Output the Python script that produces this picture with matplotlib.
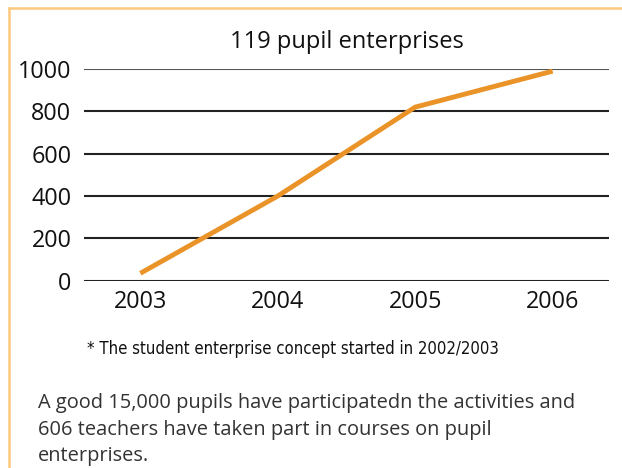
import matplotlib.pyplot as plt
from matplotlib.lines import Line2D

# data
years = ["2003", "2004", "2005", "2006"]
enterprises = [35, 400, 820, 990]
y_ticks = [0, 200, 400, 600, 800, 1000]

title = "119 pupil enterprises"
footnote = "* The student enterprise concept started in 2002/2003"
body_lines = ["A good 15,000 pupils have participatedn the activities and",
              "606 teachers have taken part in courses on pupil",
              "enterprises."]

plt.rcParams['font.family'] = ['Open Sans', 'DejaVu Sans']

W, H = 622, 468
fig = plt.figure(figsize=(W / 100, H / 100), dpi=100)

ax = fig.add_axes([84 / W, 1 - 280.7 / H, (609 - 84) / W, (280.7 - 69) / H])
x = list(range(len(years)))
ax.plot(x, enterprises, color='#EA9329', lw=3.5, solid_joinstyle='round',
        solid_capstyle='butt', clip_on=False, zorder=3)

ax.set_xlim(-0.41, 3.41)
ax.set_ylim(0, 1000)
ax.set_yticks(y_ticks)
ax.set_xticks(x)
ax.set_xticklabels(years)
for v in y_ticks:
    col = '#555555' if v == 1000 else '#222222'
    ax.axhline(v, color=col, lw=1.5, zorder=1)

for s in ax.spines.values():
    s.set_visible(False)
ax.tick_params(length=0, labelsize=16.8, colors='#111111')
ax.tick_params(axis='y', pad=9)
ax.tick_params(axis='x', pad=7)

fig.text(347 / W, 1 - 48.5 / H, title, ha='center', va='baseline',
         fontsize=17, color='#111111')
fig.text(87 / W, 1 - 354 / H, footnote, ha='left', va='baseline',
         fontsize=12, color='#111111', family='DejaVu Sans',
         fontstretch='condensed')
for i, line in enumerate(body_lines):
    fig.text(38 / W, 1 - (408 + 26.5 * i) / H, line, ha='left', va='baseline',
             fontsize=14.4, color='#333333')

# light orange frame on top and left
fig.add_artist(Line2D([9 / W, 9 / W], [0, 1 - 8 / H], transform=fig.transFigure,
                      color='#FDC97E', lw=1.8))
fig.add_artist(Line2D([9 / W, 1], [1 - 8 / H, 1 - 8 / H], transform=fig.transFigure,
                      color='#FDC97E', lw=1.8))

fig.savefig('out.png', dpi=100)
